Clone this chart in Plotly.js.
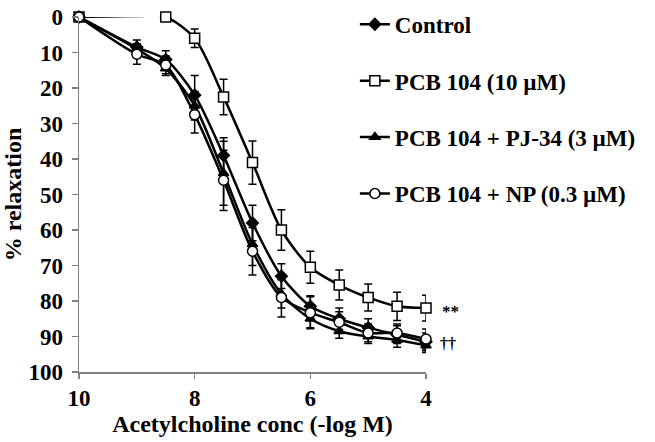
<!DOCTYPE html>
<html>
<head>
<meta charset="utf-8">
<script src="https://cdn.plot.ly/plotly-3.0.1.min.js"></script>
<style>html,body{margin:0;padding:0;background:#fff}#chart{width:655px;height:442px}</style>
</head>
<body>
<div id="chart"></div>
<script>
// -log M concentrations
const conc = [10, 9, 8.5, 8, 7.5, 7, 6.5, 6, 5.5, 5, 4.5, 4];

const seriesNames = ["Control", "PCB 104 (10 \u00b5M)", "PCB 104 + PJ-34 (3 \u00b5M)", "PCB 104 + NP (0.3 \u00b5M)"];

const controlY   = [0, 8.5, 12, 22, 39, 58, 73, 81.5, 85, 87.5, 89.5, 91.5];
const controlErr = [0, 2, 2.5, 5.5, 5, 5, 3.5, 3, 3, 2.5, 2.5, 2.5];

const pcbY   = [0, -0.3, 0, 6, 22.5, 41, 60, 70.5, 75.5, 79, 81.5, 82];
const pcbErr = [0, 0, 0, 2.6, 5, 6.1, 5.7, 4.5, 4.2, 3.8, 4, 3.6];

const pjY   = [0, 9, 14.5, 25, 44, 64, 78, 85, 88.5, 90, 91, 92.5];
const pjErr = [0, 1.5, 2, 4, 9, 6, 4, 2.5, 2, 2, 2, 2];

const npY   = [0, 10.5, 13.5, 27.5, 46, 66, 79, 83.3, 86, 89, 89, 90.7];
const npErr = [0, 2.8, 2.5, 5.2, 8.5, 6.7, 5.5, 4.5, 3, 2.5, 2.5, 2.8];

const yTicks = [0, 10, 20, 30, 40, 50, 60, 70, 80, 90, 100];
const xTicks = [10, 8, 6, 4];

const serif = "Liberation Serif, Times New Roman, serif";

function mk(name, y, err, symbol, fill, size, group) {
  return {
    x: conc, y: y, name: name, type: "scatter", mode: "lines+markers",
    legendgroup: group,
    line: {color: "#000", width: 2.5, shape: "spline", smoothing: 0.8},
    marker: {symbol: symbol, size: size, color: fill, line: {color: "#000", width: 1.5}},
    error_y: {type: "data", array: err, visible: true, color: "#000", thickness: 1.5, width: 4},
    cliponaxis: false
  };
}

const data = [
  mk(seriesNames[0], controlY, controlErr, "diamond", "#000", 9, "a"),
  mk(seriesNames[1], pcbY, pcbErr, "square", "#fff", 10, "b"),
  mk(seriesNames[2], pjY, pjErr, "triangle-up", "#000", 9, "c"),
  mk(seriesNames[3], npY, npErr, "circle", "#fff", 10, "d")
];

const layout = {
  width: 655, height: 442,
  margin: {l: 79, r: 229, t: 17, b: 70, autoexpand: false},
  paper_bgcolor: "#fff", plot_bgcolor: "#fff",
  font: {family: serif, color: "#000"},
  showlegend: true,
  legend: {
    x: 0.795, xanchor: "left", y: 1.04, yanchor: "top",
    font: {family: serif, size: 23, weight: "bold", color: "#000"},
    tracegroupgap: 23.5, bgcolor: "rgba(0,0,0,0)", borderwidth: 0
  },
  xaxis: {
    range: [10, 4], tickvals: xTicks, ticktext: xTicks.map(String),
    showgrid: false, zeroline: false, showline: true, linecolor: "#808080", linewidth: 1.5,
    ticks: "outside", ticklen: 5, tickcolor: "#808080", tickwidth: 1.5,
    tickfont: {family: serif, size: 23, weight: "bold", color: "#000"},
    title: {text: "Acetylcholine conc (-log M)", font: {family: serif, size: 24, weight: "bold", color: "#000"}, standoff: 0}
  },
  yaxis: {
    range: [100, 0], tickvals: yTicks, ticktext: yTicks.map(String),
    showgrid: false, zeroline: false, showline: true, linecolor: "#808080", linewidth: 1.5,
    ticks: "outside", ticklen: 6, tickcolor: "#808080", tickwidth: 1.5, ticklabelstandoff: 4,
    tickfont: {family: serif, size: 23, weight: "bold", color: "#000"},
    title: {text: "% relaxation", font: {family: serif, size: 24, weight: "bold", color: "#000"}, standoff: 4}
  },
  annotations: [
    {text: "**", x: 4, y: 82, xref: "x", yref: "y", xshift: 24, yshift: -3, showarrow: false,
     font: {family: serif, size: 17, weight: "bold", color: "#000"}},
    {text: "\u2020\u2020", x: 4, y: 92, xref: "x", yref: "y", xshift: 22, yshift: 0, showarrow: false,
     font: {family: serif, size: 16, weight: "bold", color: "#000"}}
  ]
};

Plotly.newPlot("chart", data, layout, {displayModeBar: false, staticPlot: true});
</script>
</body>
</html>
